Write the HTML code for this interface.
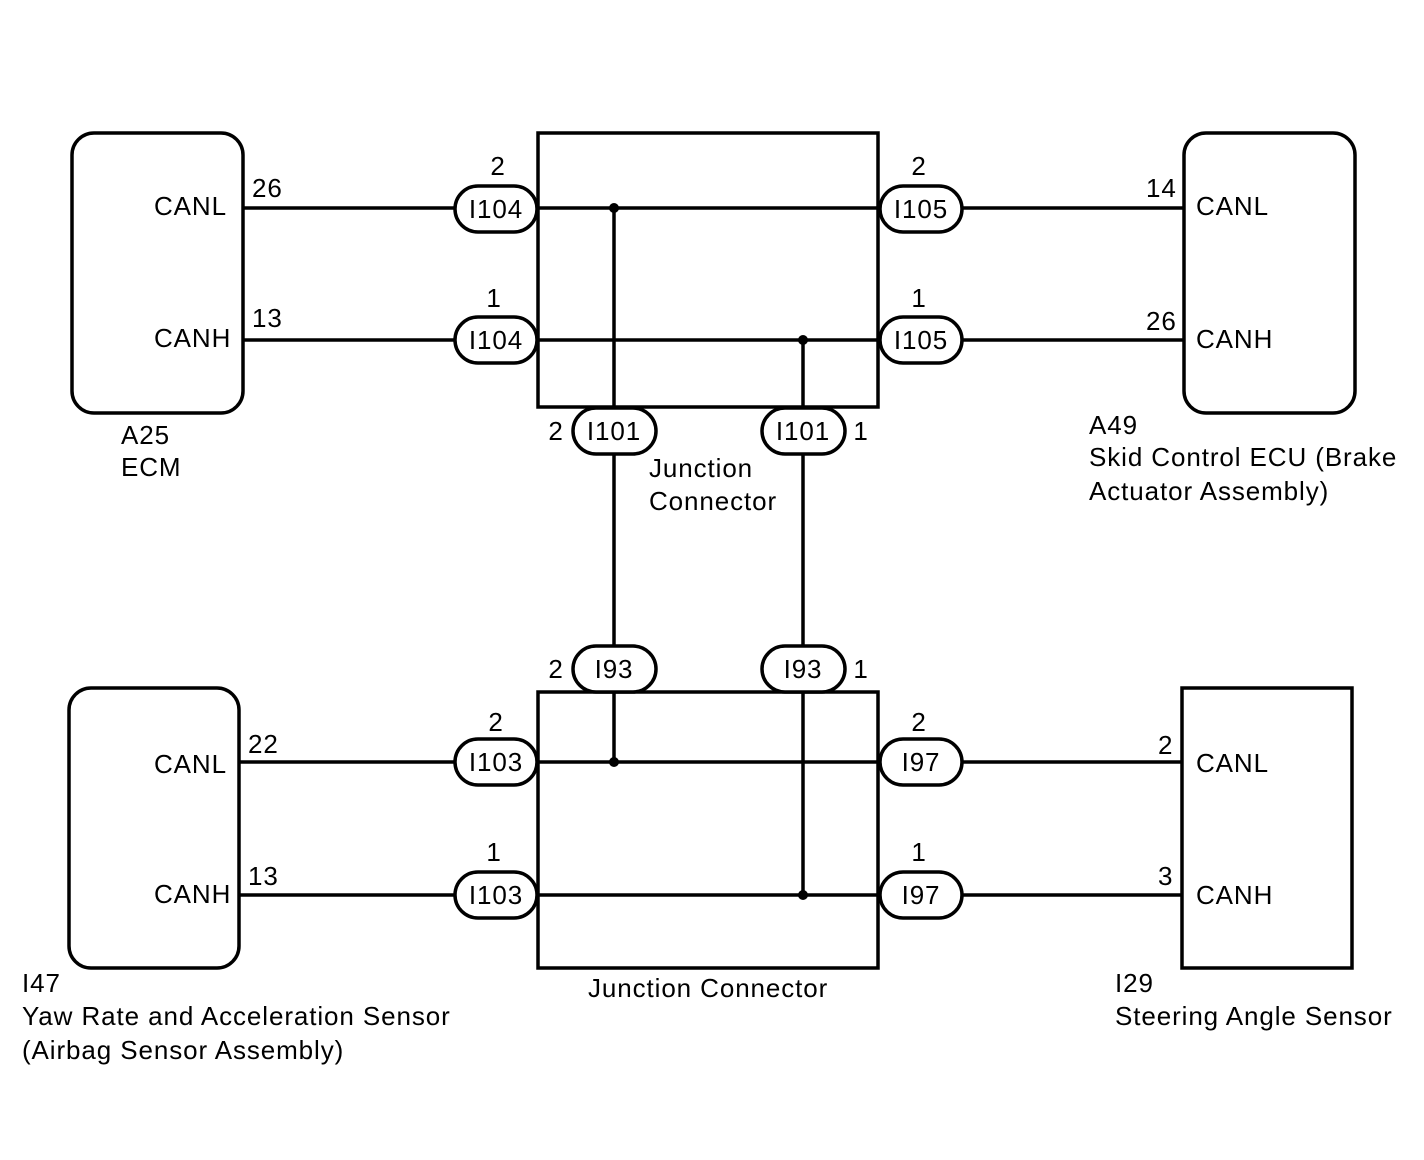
<!DOCTYPE html>
<html><head><meta charset="utf-8"><style>
html,body{margin:0;padding:0;background:#fff;}
svg{display:block;}
text{font-family:"Liberation Sans",sans-serif;font-size:26px;letter-spacing:0.9px;fill:#000;}
</style></head><body>
<svg width="1424" height="1160" viewBox="0 0 1424 1160" xmlns="http://www.w3.org/2000/svg">
<g fill="none" stroke="#000" stroke-width="3.5">
<rect x="72" y="133" width="171" height="280" rx="22"/>
<rect x="1184" y="133" width="171" height="280" rx="22"/>
<rect x="69" y="688" width="170" height="280" rx="22"/>
<rect x="1182" y="688" width="170" height="280"/>
<rect x="538" y="133" width="340" height="274"/>
<rect x="538" y="692" width="340" height="276"/>
<line x1="243" y1="208" x2="1184" y2="208"/>
<line x1="243" y1="340" x2="1184" y2="340"/>
<line x1="239" y1="762" x2="1182" y2="762"/>
<line x1="239" y1="895" x2="1182" y2="895"/>
<line x1="614" y1="208" x2="614" y2="762"/>
<line x1="803" y1="340" x2="803" y2="895"/>
</g>
<g fill="#000">
<circle cx="614" cy="208" r="5"/><circle cx="803" cy="340" r="5"/>
<circle cx="614" cy="762" r="5"/><circle cx="803" cy="895" r="5"/>
</g>
<g fill="#fff" stroke="#000" stroke-width="3.5">
<rect x="455" y="186" width="82" height="46" rx="23"/>
<rect x="455" y="317" width="82" height="46" rx="23"/>
<rect x="880" y="186" width="82" height="46" rx="23"/>
<rect x="880" y="317" width="82" height="46" rx="23"/>
<rect x="573" y="408" width="83" height="46" rx="23"/>
<rect x="762" y="408" width="83" height="46" rx="23"/>
<rect x="573" y="646" width="83" height="46" rx="23"/>
<rect x="762" y="646" width="83" height="46" rx="23"/>
<rect x="455" y="739" width="82" height="46" rx="23"/>
<rect x="455" y="872" width="82" height="46" rx="23"/>
<rect x="880" y="739" width="82" height="46" rx="23"/>
<rect x="880" y="872" width="82" height="46" rx="23"/>
</g>
<g text-anchor="middle">
<text x="496" y="218">I104</text><text x="496" y="349">I104</text>
<text x="921" y="218">I105</text><text x="921" y="349">I105</text>
<text x="614" y="440">I101</text><text x="803" y="440">I101</text>
<text x="614" y="678">I93</text><text x="803" y="678">I93</text>
<text x="496" y="771">I103</text><text x="496" y="904">I103</text>
<text x="921" y="771">I97</text><text x="921" y="904">I97</text>
<text x="498" y="175">2</text><text x="494" y="307">1</text>
<text x="919" y="175">2</text><text x="919" y="307">1</text>
<text x="496" y="731">2</text><text x="494" y="861">1</text>
<text x="919" y="731">2</text><text x="919" y="861">1</text>
<text x="556" y="440">2</text><text x="861" y="440">1</text>
<text x="556" y="678">2</text><text x="861" y="678">1</text>
</g>
<text x="154" y="215">CANL</text><text x="154" y="347">CANH</text>
<text x="252" y="197">26</text><text x="252" y="327">13</text>
<text x="1196" y="215">CANL</text><text x="1196" y="348">CANH</text>
<text x="1146" y="197">14</text><text x="1146" y="330">26</text>
<text x="154" y="773">CANL</text><text x="154" y="903">CANH</text>
<text x="248" y="753">22</text><text x="248" y="885">13</text>
<text x="1196" y="772">CANL</text><text x="1196" y="904">CANH</text>
<text x="1158" y="754">2</text><text x="1158" y="885">3</text>
<text x="121" y="444">A25</text><text x="121" y="476">ECM</text>
<text x="649" y="477">Junction</text><text x="649" y="510">Connector</text>
<text x="1089" y="434">A49</text>
<text x="1089" y="466">Skid Control ECU (Brake</text>
<text x="1089" y="500">Actuator Assembly)</text>
<text x="588" y="997">Junction Connector</text>
<text x="22" y="992">I47</text>
<text x="22" y="1025">Yaw Rate and Acceleration Sensor</text>
<text x="22" y="1059">(Airbag Sensor Assembly)</text>
<text x="1115" y="992">I29</text>
<text x="1115" y="1025">Steering Angle Sensor</text>
</svg>
</body></html>
